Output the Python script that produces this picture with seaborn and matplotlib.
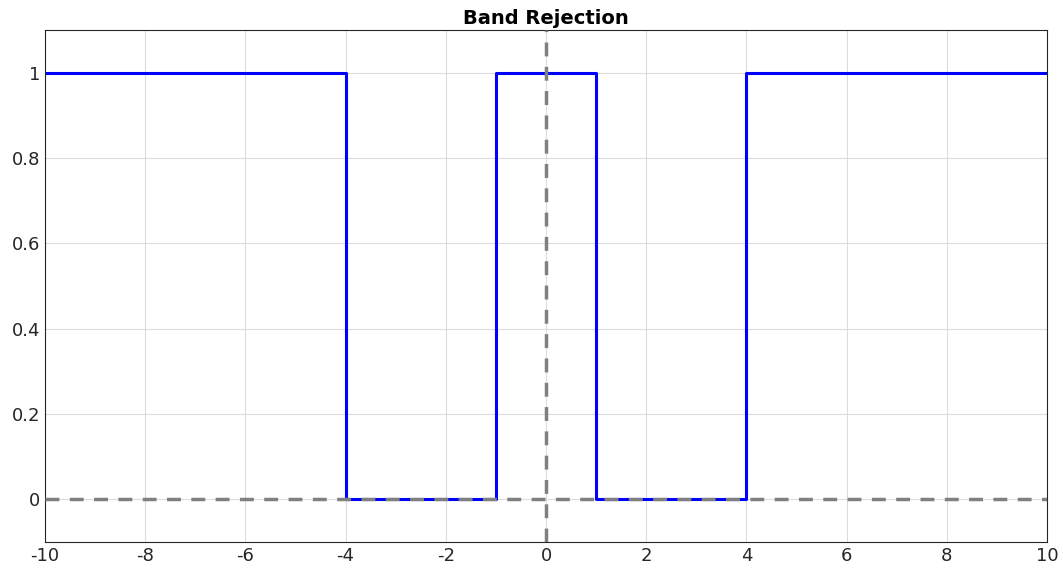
import matplotlib
matplotlib.use("Agg")
import matplotlib.pyplot as plt
import seaborn as sns
import pandas as pd

sns.set_style("white")
plt.rcParams['font.family'] = ['DejaVu Sans']

# band rejection filter response (corner points)
freq = [-10, -4, -4, -1, -1, 1, 1, 4, 4, 10]
gain = [1, 1, 0, 0, 1, 1, 0, 0, 1, 1]
x_ticks = [-10, -8, -6, -4, -2, 0, 2, 4, 6, 8, 10]
y_ticks = [0, 0.2, 0.4, 0.6, 0.8, 1]

df = pd.DataFrame({"freq": freq, "gain": gain})

fig = plt.figure(figsize=(10.63, 5.75), dpi=100)
ax = fig.add_axes([0.0423, 0.0574, 0.9427, 0.8906])

sns.lineplot(data=df, x="freq", y="gain", sort=False, estimator=None,
             color="#0000ff", lw=2.2, ax=ax, zorder=2)
# dashed reference lines drawn on top, like the original
ax.axhline(0, color="#808080", lw=2.5, ls=(0, (4, 3)), zorder=3)
ax.axvline(0, color="#808080", lw=2.5, ls=(0, (4, 3)), zorder=3)

ax.set_xlim(-10, 10)
ax.set_ylim(-0.1, 1.1)
ax.set_xticks(x_ticks)
ax.set_xticklabels([str(t) for t in x_ticks])
ax.set_yticks(y_ticks)
ax.set_yticklabels(["0", "0.2", "0.4", "0.6", "0.8", "1"])
ax.tick_params(labelsize=13, colors="#262626", direction="in", length=4)
ax.grid(True, color="#dcdcdc", lw=0.8)
ax.set_axisbelow(True)
for s in ax.spines.values():
    s.set_color("#262626")
    s.set_linewidth(0.8)
ax.set_xlabel("")
ax.set_ylabel("")
ax.set_title("Band Rejection", fontsize=14, fontweight="bold", pad=4, color="black")

fig.savefig("out.png", dpi=100)
